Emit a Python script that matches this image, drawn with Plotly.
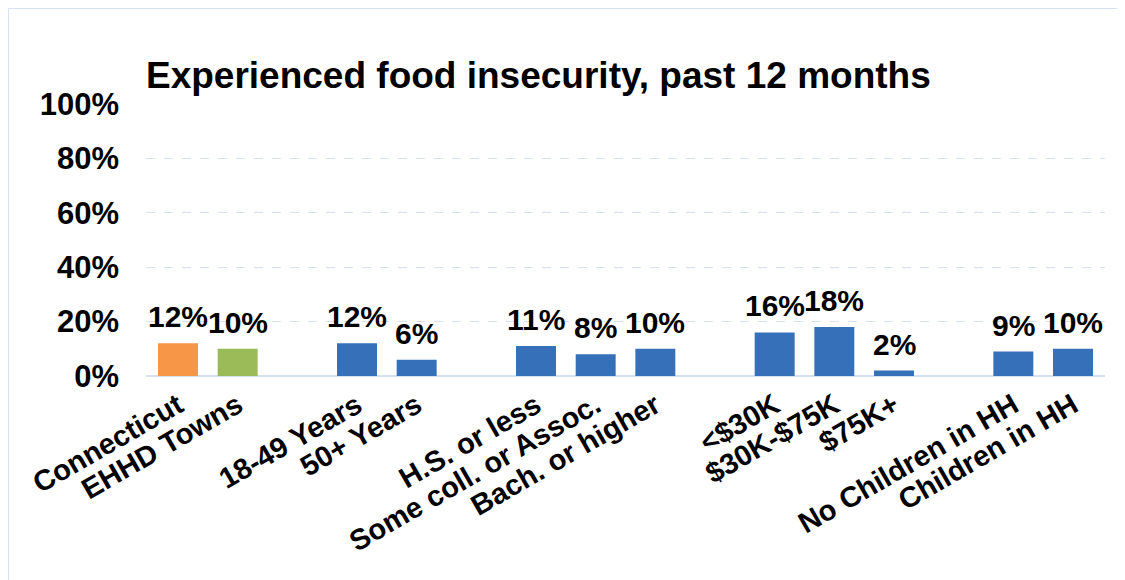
import plotly.graph_objects as go

categories = ["Connecticut", "EHHD Towns", " ",
              "18-49 Years", "50+ Years", "  ",
              "H.S. or less", "Some coll. or Assoc.", "Bach. or higher", "   ",
              "<$30K", "$30K-$75K", "$75K+", "    ",
              "No Children in HH", "Children in HH"]
values = [12, 10, None,
          12, 6, None,
          11, 8, 10, None,
          16, 18, 2, None,
          9, 10]
bar_colors = ["#F79646", "#9BBB59", "#3670B8",
              "#3670B8", "#3670B8", "#3670B8",
              "#3670B8", "#3670B8", "#3670B8", "#3670B8",
              "#3670B8", "#3670B8", "#3670B8", "#3670B8",
              "#3670B8", "#3670B8"]
y_ticks = [0, 20, 40, 60, 80, 100]
title_text = "Experienced food insecurity, past 12 months"

FONT = "Liberation Sans, Arial, sans-serif"

fig = go.Figure()
fig.add_trace(go.Bar(
    x=categories, y=values,
    marker=dict(color=bar_colors, line=dict(width=0)),
    width=0.67,
    hoverinfo="skip",
))

# data labels placed through the axes from the data values
annotations = []
for c, v in zip(categories, values):
    if v is None:
        continue
    annotations.append(dict(
        x=c, y=v, xref="x", yref="y", text=f"{v}%", showarrow=False,
        xanchor="center", yanchor="bottom", yshift=8,
        font=dict(family=FONT, size=30, color="black", weight="bold"),
    ))

# page has an 8px body margin; figure sized to fit the window
W, H = 1117, 572
L, R, T, B = 138, 20, 96, 204
pw = W - L - R
ph = H - T - B

fig.update_layout(
    width=W, height=H,
    margin=dict(l=L, r=R, t=T, b=B, autoexpand=False),
    paper_bgcolor="white", plot_bgcolor="white",
    showlegend=False,
    bargap=0.33,
    annotations=annotations,
    title=dict(text=title_text, x=0, xref="paper", xanchor="left",
               y=1 - 67 / H, yref="container", yanchor="middle",
               font=dict(family=FONT, size=37, color="black", weight="bold")),
    xaxis=dict(type="category", categoryorder="array", categoryarray=categories,
               tickangle=-30, showgrid=False, showline=False, ticks="",
               ticklabelstandoff=6,
               tickfont=dict(family=FONT, size=29, color="black", weight="bold"),
               zeroline=False, automargin=False),
    yaxis=dict(range=[0, 100], tickvals=y_ticks, ticktext=[f"{t}%" for t in y_ticks],
               showgrid=True, gridcolor="#D5E2F3", griddash="dash", gridwidth=1,
               zeroline=True, zerolinecolor="#D5E2F3", zerolinewidth=2,
               showline=False, ticks="", ticklabelstandoff=26, automargin=False,
               tickfont=dict(family=FONT, size=31, color="black", weight="bold")),
    shapes=[dict(type="rect", xref="paper", yref="paper",
                 x0=(0 - L) / pw, x1=(W + 20 - L) / pw,
                 y0=(H - B - (H + 20)) / ph, y1=(H - B - 0) / ph,
                 line=dict(color="#D5E2F3", width=2), fillcolor="rgba(0,0,0,0)",
                 layer="below")],
)

fig.write_html("out.html")
